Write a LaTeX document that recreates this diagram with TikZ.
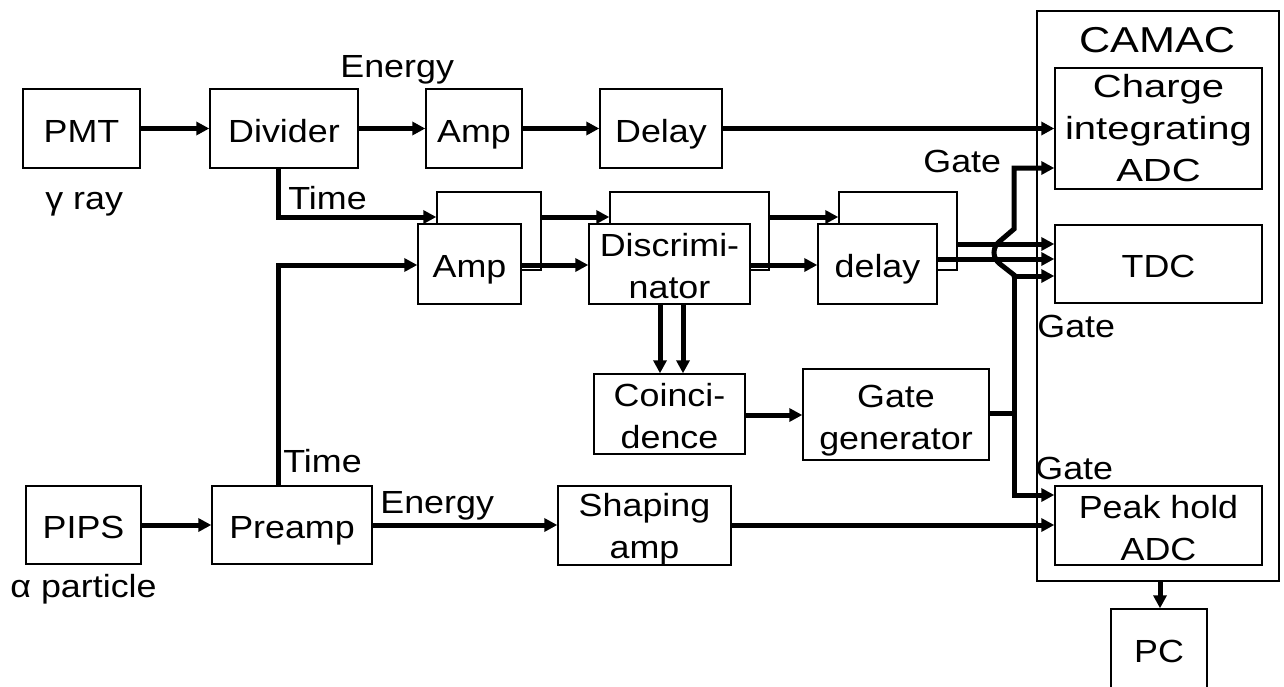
\documentclass[tikz,border=0pt]{standalone}
\usepackage{fontspec}
\setmainfont{Liberation Sans}
\newfontfamily\fa[FakeStretch=1.12]{Liberation Sans}
\newfontfamily\fb[FakeStretch=1.25]{Liberation Sans}
\newfontfamily\fc[FakeStretch=1.2]{Liberation Sans}
\newcommand\fs{\fa\fontsize{16}{21}\selectfont}
\newcommand\fsb{\fb\fontsize{16}{21}\selectfont}
\newcommand\fsc{\fc\fontsize{18}{21}\selectfont}
\usetikzlibrary{arrows.meta,calc}
\def\tsh{2.75pt}
\tikzset{
  tshift/.code={\def\tsh{#1}},
  blk/.style={draw, line width=0.7pt, fill=white, inner sep=0pt, font=\fs, tshift=2.75pt},
  conn/.style={line width=2.5pt, -{Triangle[length=6.5pt,width=6.5pt]}},
  wire/.style={line width=2.5pt},
  lbl/.style={anchor=base west, inner sep=0pt, font=\fs}
}
\newcommand\bx[7][]{\node[blk,#1, minimum width={(#4-#2)*0.5pt}, minimum height={(#5-#3)*0.5pt}] (#6) at ({(#2+#4)/2},{(#3+#5)/2}) {\ifx&#7&\else\raisebox{-\tsh}[\dimexpr\height-4pt\relax][\dimexpr\depth-4pt\relax]{\begin{tabular}{@{}c@{}}#7\end{tabular}}\fi};}
\begin{document}
\begin{tikzpicture}[x=0.5pt,y=-0.5pt]
\useasboundingbox (0,0) rectangle (1284,686);
% CAMAC frame
\bx{1037}{11}{1279}{581}{camac}{}
\node[anchor=base, inner sep=0pt, font=\fsc] (camact) at (1157,52) {CAMAC};
% top row
\bx{23}{89}{140}{168}{pmt}{PMT}
\bx{210}{89}{358}{168}{div}{Divider}
\bx{426}{89}{522}{168}{ampT}{Amp}
\bx{600}{89}{722}{168}{dly}{Delay}
% back boxes
\bx{437}{192}{541}{270}{ampB}{}
\bx{610}{192}{769}{270}{discB}{}
\bx{839}{192}{957}{270}{delB}{}
% front boxes
\bx{418}{224}{521}{304}{ampF}{Amp}
\bx[tshift=2.3pt]{589}{224}{750}{304}{discF}{Discrimi-\\nator}
\bx{818}{224}{937}{304}{delF}{delay}
\bx[tshift=2.5pt]{594}{374}{745}{454}{coin}{Coinci-\\dence}
\bx[tshift=2.8pt]{803}{369}{989}{460}{gg}{Gate\\generator}
% bottom row
\bx{26}{486}{141}{564}{pips}{PIPS}
\bx{212}{486}{372}{564}{pre}{Preamp}
\bx[tshift=1.8pt]{558}{486}{731}{565}{shp}{Shaping\\amp}
% CAMAC modules
\bx[font=\fsb,tshift=1.3pt]{1055}{68}{1262}{189}{qadc}{Charge\\integrating\\ADC}
\bx{1055}{225}{1262}{303}{tdc}{TDC}
\bx[tshift=2.8pt]{1055}{486}{1262}{565}{padc}{Peak hold\\ADC}
\bx[tshift=0pt]{1111}{609}{1207}{700}{pc}{PC}
% labels
\node[lbl] (lE1) at (340,77) {Energy};
\node[lbl] (lg) at (45,209) {γ ray};
\node[lbl] (lT1) at (288,209) {Time};
\node[lbl] (lT2) at (283,472) {Time};
\node[lbl] (lE2) at (380,513) {Energy};
\node[lbl] (la) at (10,597) {α particle};
\node[lbl] (lG1) at (923,172) {Gate};
\node[lbl] (lG2) at (1037,337) {Gate};
\node[lbl] (lG3) at (1035,479) {Gate};
% connectors top
\draw[conn] (pmt.east) -- (div.west);
\draw[conn] (div.east) -- (ampT.west);
\draw[conn] (ampT.east) -- (dly.west);
\draw[conn] (dly.east) -- (dly.east -| qadc.west);
\draw[conn] (div.south -| 278,0) |- (ampB.west |- 0,217);
\draw[conn] (pre.north -| 278,0) |- (ampF.west |- 0,265);
\draw[conn] (ampB.east |- 0,217) -- (discB.west |- 0,217);
\draw[conn] (ampF.east |- 0,265) -- (discF.west |- 0,265);
\draw[conn] (discB.east |- 0,217) -- (delB.west |- 0,217);
\draw[conn] (discF.east |- 0,265) -- (delF.west |- 0,265);
\draw[conn] (delB.east |- 0,244) -- (tdc.west |- 0,244);
\draw[conn] (delF.east |- 0,259) -- (tdc.west |- 0,259);
\draw[conn] (discF.south -| 660,0) -- (coin.north -| 660,0);
\draw[conn] (discF.south -| 683,0) -- (coin.north -| 683,0);
\draw[conn] (coin.east |- 0,415) -- (gg.west |- 0,415);
% gate bus
\draw[wire] (gg.east |- 0,413) -- (1014,413);
\draw[conn] (1014,413) |- (padc.west |- 0,495);
\draw[conn] (1014,413) -- (1014,276) -- (tdc.west |- 0,276);
\draw[conn] (1014,277.25) -- (1014,275) -- (1000,264) .. controls (992,258) and (992,247) .. (1000,241) -- (1014,229) |- (qadc.west |- 0,168);
% bottom
\draw[conn] (pips.east) -- (pre.west);
\draw[conn] (pre.east |- 0,525) -- (shp.west |- 0,525);
\draw[conn] (shp.east |- 0,525) -- (padc.west |- 0,525);
\draw[conn] (camac.south -| 1160,0) -- (pc.north -| 1160,0);
\end{tikzpicture}
\end{document}
